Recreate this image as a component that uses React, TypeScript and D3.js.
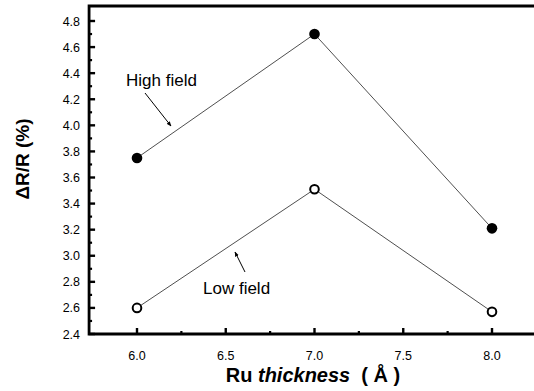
import * as d3 from "d3";

const thickness = [6.0, 7.0, 8.0];
const highField = [3.75, 4.7, 3.21];
const lowField = [2.6, 3.51, 2.57];
const yTicks = [2.4, 2.6, 2.8, 3.0, 3.2, 3.4, 3.6, 3.8, 4.0, 4.2, 4.4, 4.6, 4.8];
const xTicks = [6.0, 6.5, 7.0, 7.5, 8.0];

const W = 534;
const H = 391;

export default function App() {
  const x = d3.scaleLinear().domain([6, 8]).range([137, 492]);
  const y = d3.scaleLinear().domain([2.4, 4.8]).range([334, 21]);

  const xL = x(5.73);
  const xR = x(8.35);
  const yT = y(4.915);
  const yB = y(2.4);

  const line = d3
    .line<number>()
    .x((_, i) => x(thickness[i]))
    .y((d) => y(d));

  const yMinor = d3.range(2.5, 4.85, 0.2);
  const xMinor = d3.range(6.25, 8.3, 0.5);
  const font = "'Liberation Sans', Arial, sans-serif";

  return (
    <svg
      width={W}
      height={H}
      style={{ position: "absolute", left: 0, top: 0, background: "#fff" }}
      fontFamily={font}
    >
      <defs>
        <marker id="ah" viewBox="0 0 10 10" refX={9} refY={5} markerWidth={5} markerHeight={5} orient="auto">
          <path d="M0,1 L10,5 L0,9 z" fill="#000" />
        </marker>
      </defs>
      {/* frame */}
      <path
        d={`M${xR},${yT} L${xL},${yT} L${xL},${yB} L${xR},${yB}`}
        fill="none"
        stroke="#000"
        strokeWidth={2.8}
      />
      {/* y ticks */}
      {yTicks.map((t) => (
        <g key={"y" + t}>
          <line x1={xL} x2={xL + 6} y1={y(t)} y2={y(t)} stroke="#000" strokeWidth={2.4} />
          <text x={xL - 9} y={y(t) + 4.5} textAnchor="end" fontSize={12.5}>
            {t.toFixed(1)}
          </text>
        </g>
      ))}
      {yMinor.map((t) => (
        <line key={"ym" + t} x1={xL} x2={xL + 3} y1={y(t)} y2={y(t)} stroke="#000" strokeWidth={2.2} />
      ))}
      {/* x ticks */}
      {xTicks.map((t) => (
        <g key={"x" + t}>
          <line x1={x(t)} x2={x(t)} y1={yB} y2={yB - 6} stroke="#000" strokeWidth={2.4} />
          <text x={x(t)} y={yB + 26} textAnchor="middle" fontSize={12.5}>
            {t.toFixed(1)}
          </text>
        </g>
      ))}
      {xMinor.map((t) => (
        <line key={"xm" + t} x1={x(t)} x2={x(t)} y1={yB} y2={yB - 3} stroke="#000" strokeWidth={2.2} />
      ))}

      {/* series lines */}
      <path d={line(highField) ?? ""} fill="none" stroke="#222" strokeWidth={0.8} />
      <path d={line(lowField) ?? ""} fill="none" stroke="#222" strokeWidth={0.8} />

      {highField.map((v, i) => (
        <circle key={"h" + i} cx={x(thickness[i])} cy={y(v)} r={5.3} fill="#000" />
      ))}
      {lowField.map((v, i) => (
        <circle
          key={"l" + i}
          cx={x(thickness[i])}
          cy={y(v)}
          r={4.3}
          fill="#fff"
          stroke="#000"
          strokeWidth={2}
        />
      ))}

      {/* annotations */}
      <text x={126} y={86} fontSize={17}>High field</text>
      <line x1={145} y1={93} x2={171} y2={126} stroke="#000" strokeWidth={1} markerEnd="url(#ah)" />
      <text x={203} y={294} fontSize={17}>Low field</text>
      <line x1={245} y1={272} x2={235} y2={252} stroke="#000" strokeWidth={1} markerEnd="url(#ah)" />

      {/* axis titles */}
      <text
        transform={`translate(29,159) rotate(-90)`}
        textAnchor="middle"
        fontSize={19}
        fontWeight="bold"
      >
        ΔR/R (%)
      </text>
      <text x={313} y={382} textAnchor="middle" fontSize={20} fontWeight="bold" xmlSpace="preserve">
        Ru <tspan fontStyle="italic">thickness</tspan>  ( Å )
      </text>
    </svg>
  );
}
